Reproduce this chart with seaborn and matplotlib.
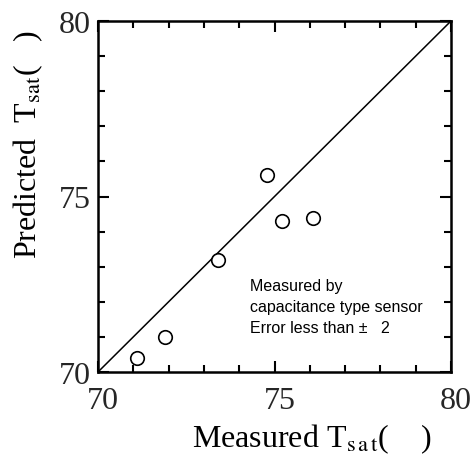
import matplotlib
matplotlib.use("Agg")
import matplotlib.pyplot as plt
import matplotlib.transforms as mtransforms
from matplotlib.ticker import MultipleLocator
import seaborn as sns
import pandas as pd

measured = [71.1, 71.9, 73.4, 74.8, 75.2, 76.1]
predicted = [70.4, 71.0, 73.2, 75.6, 74.3, 74.4]
diag = [70, 80]
ticks = [70, 75, 80]

sns.set_theme(style="ticks")
plt.rcParams['font.family'] = ['Liberation Serif', 'DejaVu Serif']
plt.rcParams['mathtext.fontset'] = 'stix'

fig = plt.figure(figsize=(4.75, 4.56), dpi=100)
ax = fig.add_axes([98/475, 1-373/456, 353/475, 351/456])

df = pd.DataFrame({"Measured": measured, "Predicted": predicted})
sns.lineplot(x=diag, y=diag, ax=ax, color="black", linewidth=1.1)
sns.scatterplot(data=df, x="Measured", y="Predicted", ax=ax, marker="o",
                s=95, facecolor="white", edgecolor="black", linewidth=1.2, zorder=3)

ax.set_xlim(70, 80)
ax.set_ylim(70, 80)
ax.set_xticks(ticks)
ax.set_yticks(ticks)
ax.xaxis.set_minor_locator(MultipleLocator(1))
ax.yaxis.set_minor_locator(MultipleLocator(1))
ax.tick_params(which='both', direction='in', top=True, right=True, color='black', width=1.5)
ax.tick_params(which='major', length=8, labelsize=23, pad=5)
ax.tick_params(which='minor', length=5)
ax.tick_params(axis='x', which='major', pad=10)
for lab in ax.get_xticklabels():
    lab.set_transform(lab.get_transform() + mtransforms.ScaledTranslation(5/100, 0, fig.dpi_scale_trans))
for s in ax.spines.values():
    s.set_linewidth(1.8)
    s.set_color('black')

ax.set_xlabel(r"Measured T$_{\mathrm{s\,a\,t}}$(    )", fontsize=23, color='black')
ax.set_ylabel(r"Predicted  T$_{\mathrm{sat}}$(   )", fontsize=23, color='black')
ax.xaxis.set_label_coords(0.606, -0.14)
ax.yaxis.set_label_coords(-0.15, 0.65)

ax.text(0.432, 0.188, "Measured by\ncapacitance type sensor\nError less than \u00b1   2",
        transform=ax.transAxes, fontsize=11.5, family=['Liberation Sans', 'DejaVu Sans'],
        va='center', ha='left', linespacing=1.5, color='black')

fig.savefig("out.png", dpi=100)
